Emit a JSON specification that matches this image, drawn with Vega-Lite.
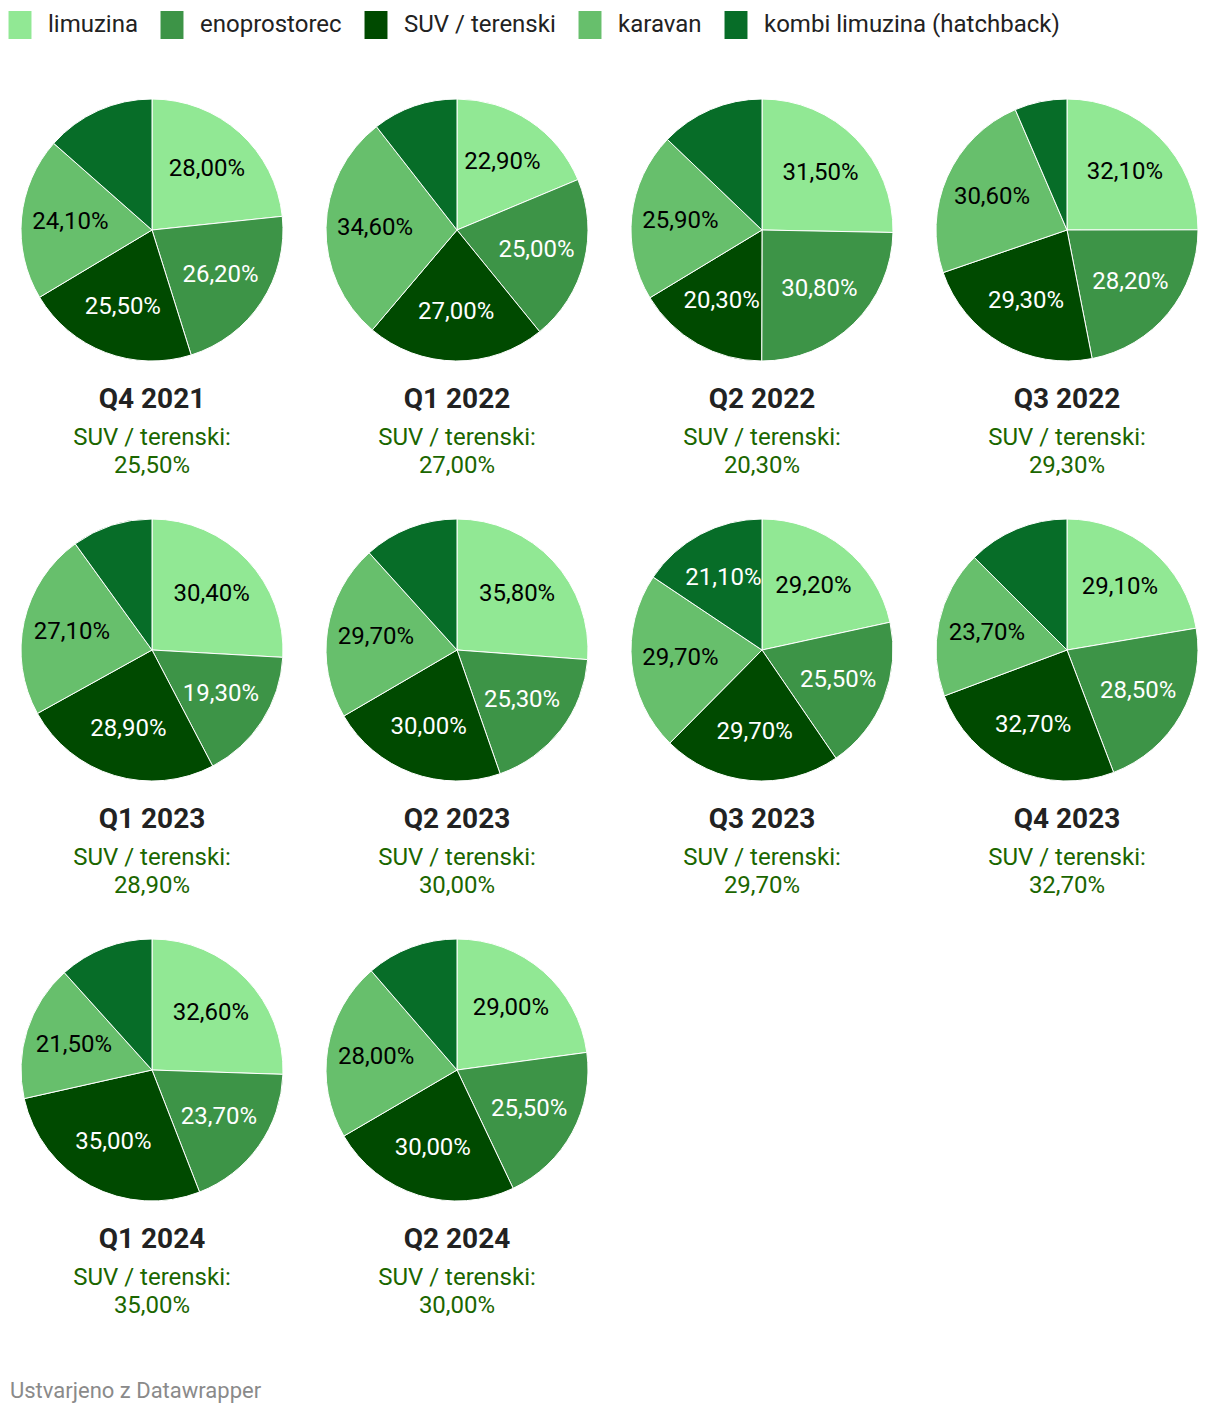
{
  "$schema": "https://vega.github.io/schema/vega-lite/v6.json",
  "padding": {"left": 6, "top": 11, "right": 10, "bottom": 10},
  "background": "white",
  "data": {"values": [
    {"q": "Q4 2021", "segment": "limuzina", "value": 28.0},
    {"q": "Q4 2021", "segment": "enoprostorec", "value": 26.2},
    {"q": "Q4 2021", "segment": "SUV / terenski", "value": 25.5},
    {"q": "Q4 2021", "segment": "karavan", "value": 24.1},
    {"q": "Q4 2021", "segment": "kombi limuzina (hatchback)", "value": 16.2},
    {"q": "Q1 2022", "segment": "limuzina", "value": 22.9},
    {"q": "Q1 2022", "segment": "enoprostorec", "value": 25.0},
    {"q": "Q1 2022", "segment": "SUV / terenski", "value": 27.0},
    {"q": "Q1 2022", "segment": "karavan", "value": 34.6},
    {"q": "Q1 2022", "segment": "kombi limuzina (hatchback)", "value": 12.9},
    {"q": "Q2 2022", "segment": "limuzina", "value": 31.5},
    {"q": "Q2 2022", "segment": "enoprostorec", "value": 30.8},
    {"q": "Q2 2022", "segment": "SUV / terenski", "value": 20.3},
    {"q": "Q2 2022", "segment": "karavan", "value": 25.9},
    {"q": "Q2 2022", "segment": "kombi limuzina (hatchback)", "value": 16.0},
    {"q": "Q3 2022", "segment": "limuzina", "value": 32.1},
    {"q": "Q3 2022", "segment": "enoprostorec", "value": 28.2},
    {"q": "Q3 2022", "segment": "SUV / terenski", "value": 29.3},
    {"q": "Q3 2022", "segment": "karavan", "value": 30.6},
    {"q": "Q3 2022", "segment": "kombi limuzina (hatchback)", "value": 8.3},
    {"q": "Q1 2023", "segment": "limuzina", "value": 30.4},
    {"q": "Q1 2023", "segment": "enoprostorec", "value": 19.3},
    {"q": "Q1 2023", "segment": "SUV / terenski", "value": 28.9},
    {"q": "Q1 2023", "segment": "karavan", "value": 27.1},
    {"q": "Q1 2023", "segment": "kombi limuzina (hatchback)", "value": 11.7},
    {"q": "Q2 2023", "segment": "limuzina", "value": 35.8},
    {"q": "Q2 2023", "segment": "enoprostorec", "value": 25.3},
    {"q": "Q2 2023", "segment": "SUV / terenski", "value": 30.0},
    {"q": "Q2 2023", "segment": "karavan", "value": 29.7},
    {"q": "Q2 2023", "segment": "kombi limuzina (hatchback)", "value": 16.0},
    {"q": "Q3 2023", "segment": "limuzina", "value": 29.2},
    {"q": "Q3 2023", "segment": "enoprostorec", "value": 25.5},
    {"q": "Q3 2023", "segment": "SUV / terenski", "value": 29.7},
    {"q": "Q3 2023", "segment": "karavan", "value": 29.7},
    {"q": "Q3 2023", "segment": "kombi limuzina (hatchback)", "value": 21.1},
    {"q": "Q4 2023", "segment": "limuzina", "value": 29.1},
    {"q": "Q4 2023", "segment": "enoprostorec", "value": 28.5},
    {"q": "Q4 2023", "segment": "SUV / terenski", "value": 32.7},
    {"q": "Q4 2023", "segment": "karavan", "value": 23.7},
    {"q": "Q4 2023", "segment": "kombi limuzina (hatchback)", "value": 16.3},
    {"q": "Q1 2024", "segment": "limuzina", "value": 32.6},
    {"q": "Q1 2024", "segment": "enoprostorec", "value": 23.7},
    {"q": "Q1 2024", "segment": "SUV / terenski", "value": 35.0},
    {"q": "Q1 2024", "segment": "karavan", "value": 21.5},
    {"q": "Q1 2024", "segment": "kombi limuzina (hatchback)", "value": 14.9},
    {"q": "Q2 2024", "segment": "limuzina", "value": 29.0},
    {"q": "Q2 2024", "segment": "enoprostorec", "value": 25.5},
    {"q": "Q2 2024", "segment": "SUV / terenski", "value": 30.0},
    {"q": "Q2 2024", "segment": "karavan", "value": 28.0},
    {"q": "Q2 2024", "segment": "kombi limuzina (hatchback)", "value": 14.4}
  ]},
  "transform": [
    {"calculate": "indexof(['limuzina','enoprostorec','SUV / terenski','karavan','kombi limuzina (hatchback)'], datum.segment)", "as": "k"},
    {"calculate": "replace(format(datum.value, '.2f'), '.', ',') + '%'", "as": "label"}
  ],
  "title": {
    "text": "Ustvarjeno z Datawrapper",
    "orient": "bottom",
    "anchor": "start",
    "frame": "group",
    "dx": -11,
    "offset": 63,
    "fontSize": 22,
    "fontWeight": "normal",
    "color": "#8a8a8a",
    "font": "Roboto"
  },
  "facet": {
    "field": "q",
    "type": "nominal",
    "sort": ["Q4 2021", "Q1 2022", "Q2 2022", "Q3 2022", "Q1 2023", "Q2 2023", "Q3 2023", "Q4 2023", "Q1 2024", "Q2 2024"],
    "header": {"title": null, "labels": false, "labelPadding": 0, "labelFontSize": 0, "labelExpr": "''"}
  },
  "columns": 4,
  "spacing": {"column": 39, "row": 39},
  "spec": {
    "width": 262,
    "height": 262,
    "layer": [
      {
        "mark": {"type": "arc", "radius": 131, "stroke": "white", "strokeWidth": 1},
        "encoding": {
          "theta": {"field": "value", "type": "quantitative", "stack": true},
          "order": {"field": "k", "type": "quantitative"},
          "color": {
            "field": "segment",
            "type": "nominal",
            "scale": {
              "domain": ["limuzina", "enoprostorec", "SUV / terenski", "karavan", "kombi limuzina (hatchback)"],
              "range": ["#91e894", "#3d9447", "#004a00", "#67bf6c", "#076d28"]
            },
            "legend": {
              "title": null,
              "orient": "none",
              "direction": "horizontal",
              "legendX": -15,
              "legendY": -88,
              "symbolType": "M-0.82,-1H0.82V1H-0.82Z",
              "symbolSize": 784,
              "symbolStrokeWidth": 0,
              "symbolOpacity": 1,
              "labelFontSize": 24,
              "labelFont": "Roboto",
              "labelColor": "#222222",
              "labelOffset": 14,
              "columnPadding": 20,
              "labelLimit": 500
            }
          }
        }
      },
      {
        "transform": [{"filter": "datum.segment !== 'kombi limuzina (hatchback)' || datum.value >= 20"}],
        "mark": {"type": "text", "radius": 82, "fontSize": 24, "font": "Roboto"},
        "encoding": {
          "theta": {"field": "value", "type": "quantitative", "stack": true},
          "order": {"field": "k", "type": "quantitative"},
          "text": {"field": "label"},
          "color": {
            "condition": {"test": "datum.segment === 'limuzina' || datum.segment === 'karavan'", "value": "#000000"},
            "value": "#ffffff"
          }
        }
      },
      {
        "transform": [{"filter": "datum.segment === 'SUV / terenski'"}],
        "mark": {"type": "text", "dy": 170, "fontSize": 28, "fontWeight": "bold", "font": "Roboto", "color": "#222222"},
        "encoding": {"text": {"field": "q"}}
      },
      {
        "transform": [{"filter": "datum.segment === 'SUV / terenski'"}],
        "mark": {"type": "text", "dy": 208, "fontSize": 24, "font": "Roboto", "color": "#1b6600"},
        "encoding": {"text": {"value": "SUV / terenski:"}}
      },
      {
        "transform": [{"filter": "datum.segment === 'SUV / terenski'"}],
        "mark": {"type": "text", "dy": 236, "fontSize": 24, "font": "Roboto", "color": "#1b6600"},
        "encoding": {"text": {"field": "label"}}
      }
    ]
  },
  "config": {
    "view": {"stroke": null},
    "font": "Roboto",
    "header": {"labels": false, "title": null}
  }
}
